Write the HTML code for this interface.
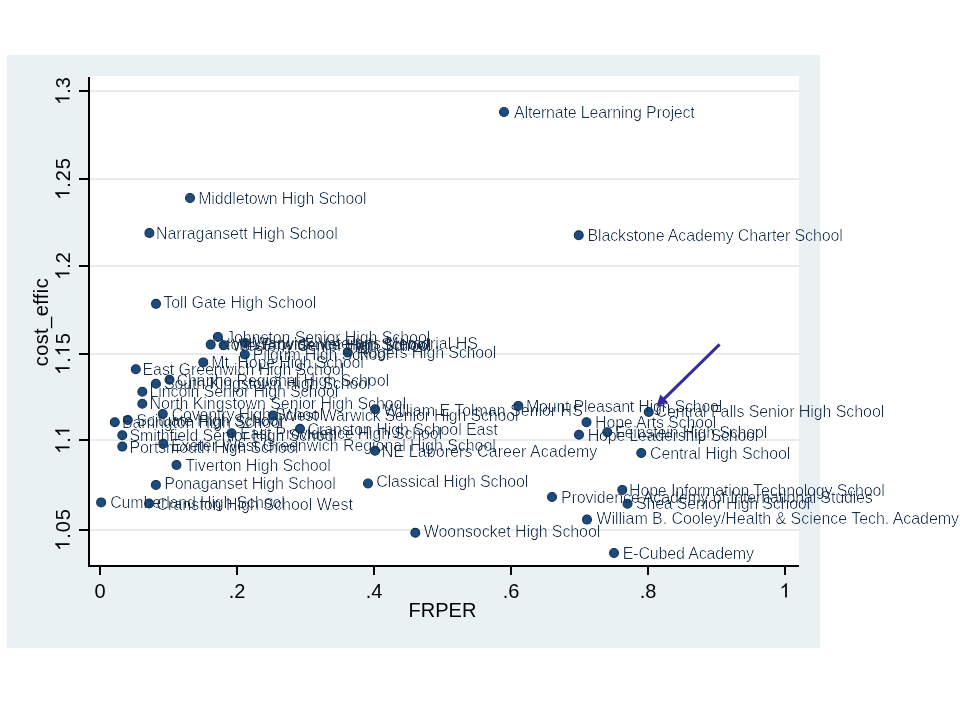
<!DOCTYPE html>
<html><head><meta charset="utf-8"><style>
html,body{margin:0;padding:0;background:#fff;width:960px;height:720px;overflow:hidden}
svg{display:block}
text{font-family:"Liberation Sans",sans-serif}
.lb{font-size:16px;fill:#172f4b}
.tk{font-size:20px;fill:#000}
</style></head><body>
<svg width="960" height="720" viewBox="0 0 960 720">
<defs><filter id="thin" x="0" y="0" width="960" height="720" filterUnits="userSpaceOnUse"><feComponentTransfer><feFuncA type="gamma" amplitude="1" exponent="2.3" offset="0"/></feComponentTransfer></filter>
<filter id="gray" x="0" y="0" width="960" height="720" filterUnits="userSpaceOnUse"><feComponentTransfer><feFuncA type="identity"/></feComponentTransfer></filter></defs>
<rect x="0" y="0" width="960" height="720" fill="#ffffff"/>
<rect x="7" y="55" width="813" height="593" fill="#eaf1f3"/>
<rect x="88" y="76" width="711" height="490" fill="#ffffff"/>

<rect x="90" y="529" width="709" height="2" fill="#e8ebec"/>
<rect x="90" y="439" width="709" height="2" fill="#e8ebec"/>
<rect x="90" y="353" width="709" height="2" fill="#e8ebec"/>
<rect x="90" y="265" width="709" height="2" fill="#e8ebec"/>
<rect x="90" y="178" width="709" height="2" fill="#e8ebec"/>
<rect x="90" y="90" width="709" height="2" fill="#e8ebec"/>
<rect x="88" y="77" width="2" height="490" fill="#000"/>
<rect x="88" y="565" width="711" height="2" fill="#000"/>
<g filter="url(#gray)" fill="#000">
<rect x="79" y="529" width="9" height="2"/>
<g transform="translate(69.5,530) rotate(-90)"><path d="M7.45,0L5.69,0L5.69,-11.2C5.06,-10.6 4.23,-10.0 3.2,-9.4C2.8,-9.15 2.45,-8.97 2.17,-8.87L2.17,-10.57C3.1,-11.0 3.9,-11.6 4.6,-12.25C5.3,-12.9 5.9,-13.6 6.26,-14.32L7.45,-14.32Z" transform="translate(-20.81,0)"/><text class="tk" x="-8.79" y="0">.</text><text class="tk" x="-2.33" y="0">0</text><text class="tk" x="9.69" y="0">5</text></g>
<rect x="79" y="439" width="9" height="2"/>
<g transform="translate(69.5,440) rotate(-90)"><path d="M7.45,0L5.69,0L5.69,-11.2C5.06,-10.6 4.23,-10.0 3.2,-9.4C2.8,-9.15 2.45,-8.97 2.17,-8.87L2.17,-10.57C3.1,-11.0 3.9,-11.6 4.6,-12.25C5.3,-12.9 5.9,-13.6 6.26,-14.32L7.45,-14.32Z" transform="translate(-13.9,0)"/><text class="tk" x="-2.78" y="0">.</text><path d="M7.45,0L5.69,0L5.69,-11.2C5.06,-10.6 4.23,-10.0 3.2,-9.4C2.8,-9.15 2.45,-8.97 2.17,-8.87L2.17,-10.57C3.1,-11.0 3.9,-11.6 4.6,-12.25C5.3,-12.9 5.9,-13.6 6.26,-14.32L7.45,-14.32Z" transform="translate(2.78,0)"/></g>
<rect x="79" y="353" width="9" height="2"/>
<g transform="translate(69.5,354) rotate(-90)"><path d="M7.45,0L5.69,0L5.69,-11.2C5.06,-10.6 4.23,-10.0 3.2,-9.4C2.8,-9.15 2.45,-8.97 2.17,-8.87L2.17,-10.57C3.1,-11.0 3.9,-11.6 4.6,-12.25C5.3,-12.9 5.9,-13.6 6.26,-14.32L7.45,-14.32Z" transform="translate(-20.81,0)"/><text class="tk" x="-8.79" y="0">.</text><path d="M7.45,0L5.69,0L5.69,-11.2C5.06,-10.6 4.23,-10.0 3.2,-9.4C2.8,-9.15 2.45,-8.97 2.17,-8.87L2.17,-10.57C3.1,-11.0 3.9,-11.6 4.6,-12.25C5.3,-12.9 5.9,-13.6 6.26,-14.32L7.45,-14.32Z" transform="translate(-2.33,0)"/><text class="tk" x="9.69" y="0">5</text></g>
<rect x="79" y="265" width="9" height="2"/>
<g transform="translate(69.5,266) rotate(-90)"><path d="M7.45,0L5.69,0L5.69,-11.2C5.06,-10.6 4.23,-10.0 3.2,-9.4C2.8,-9.15 2.45,-8.97 2.17,-8.87L2.17,-10.57C3.1,-11.0 3.9,-11.6 4.6,-12.25C5.3,-12.9 5.9,-13.6 6.26,-14.32L7.45,-14.32Z" transform="translate(-13.9,0)"/><text class="tk" x="-2.78" y="0">.</text><text class="tk" x="2.78" y="0">2</text></g>
<rect x="79" y="178" width="9" height="2"/>
<g transform="translate(69.5,179) rotate(-90)"><path d="M7.45,0L5.69,0L5.69,-11.2C5.06,-10.6 4.23,-10.0 3.2,-9.4C2.8,-9.15 2.45,-8.97 2.17,-8.87L2.17,-10.57C3.1,-11.0 3.9,-11.6 4.6,-12.25C5.3,-12.9 5.9,-13.6 6.26,-14.32L7.45,-14.32Z" transform="translate(-20.81,0)"/><text class="tk" x="-8.79" y="0">.</text><text class="tk" x="-2.33" y="0">2</text><text class="tk" x="9.69" y="0">5</text></g>
<rect x="79" y="90" width="9" height="2"/>
<g transform="translate(69.5,91) rotate(-90)"><path d="M7.45,0L5.69,0L5.69,-11.2C5.06,-10.6 4.23,-10.0 3.2,-9.4C2.8,-9.15 2.45,-8.97 2.17,-8.87L2.17,-10.57C3.1,-11.0 3.9,-11.6 4.6,-12.25C5.3,-12.9 5.9,-13.6 6.26,-14.32L7.45,-14.32Z" transform="translate(-13.9,0)"/><text class="tk" x="-2.78" y="0">.</text><text class="tk" x="2.78" y="0">3</text></g>
<rect x="99" y="567" width="2" height="8"/>
<g transform="translate(100,597.5)"><text class="tk" x="-5.56" y="0">0</text></g>
<rect x="236" y="567" width="2" height="8"/>
<g transform="translate(237,597.5)"><text class="tk" x="-8.34" y="0">.</text><text class="tk" x="-2.78" y="0">2</text></g>
<rect x="373" y="567" width="2" height="8"/>
<g transform="translate(374,597.5)"><text class="tk" x="-8.34" y="0">.</text><text class="tk" x="-2.78" y="0">4</text></g>
<rect x="510" y="567" width="2" height="8"/>
<g transform="translate(511,597.5)"><text class="tk" x="-8.34" y="0">.</text><text class="tk" x="-2.78" y="0">6</text></g>
<rect x="647" y="567" width="2" height="8"/>
<g transform="translate(648,597.5)"><text class="tk" x="-8.34" y="0">.</text><text class="tk" x="-2.78" y="0">8</text></g>
<rect x="784" y="567" width="2" height="8"/>
<g transform="translate(785,597.5)"><path d="M7.45,0L5.69,0L5.69,-11.2C5.06,-10.6 4.23,-10.0 3.2,-9.4C2.8,-9.15 2.45,-8.97 2.17,-8.87L2.17,-10.57C3.1,-11.0 3.9,-11.6 4.6,-12.25C5.3,-12.9 5.9,-13.6 6.26,-14.32L7.45,-14.32Z" transform="translate(-5.56,0)"/></g>
<text class="tk" transform="translate(47.5,322.3) rotate(-90)" text-anchor="middle" textLength="88" lengthAdjust="spacing">cost_effic</text>
<text class="tk" x="442.5" y="616.5" text-anchor="middle">FRPER</text>
</g>
<circle cx="504" cy="112" r="4.45" fill="#1d4b7d" stroke="#11304f" stroke-width="1.1"/>
<circle cx="190" cy="198" r="4.45" fill="#1d4b7d" stroke="#11304f" stroke-width="1.1"/>
<circle cx="149.4" cy="233" r="4.45" fill="#1d4b7d" stroke="#11304f" stroke-width="1.1"/>
<circle cx="578.75" cy="235.3" r="4.45" fill="#1d4b7d" stroke="#11304f" stroke-width="1.1"/>
<circle cx="156" cy="303.85" r="4.45" fill="#1d4b7d" stroke="#11304f" stroke-width="1.1"/>
<circle cx="217.9" cy="336.9" r="4.45" fill="#1d4b7d" stroke="#11304f" stroke-width="1.1"/>
<circle cx="210.7" cy="344.6" r="4.45" fill="#1d4b7d" stroke="#11304f" stroke-width="1.1"/>
<circle cx="223.7" cy="345.2" r="4.45" fill="#1d4b7d" stroke="#11304f" stroke-width="1.1"/>
<circle cx="245" cy="342.9" r="4.45" fill="#1d4b7d" stroke="#11304f" stroke-width="1.1"/>
<circle cx="244.8" cy="354.5" r="4.45" fill="#1d4b7d" stroke="#11304f" stroke-width="1.1"/>
<circle cx="347.8" cy="352.6" r="4.45" fill="#1d4b7d" stroke="#11304f" stroke-width="1.1"/>
<circle cx="203.3" cy="362.4" r="4.45" fill="#1d4b7d" stroke="#11304f" stroke-width="1.1"/>
<circle cx="135.8" cy="369.2" r="4.45" fill="#1d4b7d" stroke="#11304f" stroke-width="1.1"/>
<circle cx="169.5" cy="379.8" r="4.45" fill="#1d4b7d" stroke="#11304f" stroke-width="1.1"/>
<circle cx="155.9" cy="383.7" r="4.45" fill="#1d4b7d" stroke="#11304f" stroke-width="1.1"/>
<circle cx="142.3" cy="391.7" r="4.45" fill="#1d4b7d" stroke="#11304f" stroke-width="1.1"/>
<circle cx="142.3" cy="403.7" r="4.45" fill="#1d4b7d" stroke="#11304f" stroke-width="1.1"/>
<circle cx="518.3" cy="405.9" r="4.45" fill="#1d4b7d" stroke="#11304f" stroke-width="1.1"/>
<circle cx="375.1" cy="409.3" r="4.45" fill="#1d4b7d" stroke="#11304f" stroke-width="1.1"/>
<circle cx="648.75" cy="412" r="4.45" fill="#1d4b7d" stroke="#11304f" stroke-width="1.1"/>
<circle cx="162.8" cy="414" r="4.45" fill="#1d4b7d" stroke="#11304f" stroke-width="1.1"/>
<circle cx="273" cy="415.6" r="4.45" fill="#1d4b7d" stroke="#11304f" stroke-width="1.1"/>
<circle cx="114.8" cy="422.2" r="4.45" fill="#1d4b7d" stroke="#11304f" stroke-width="1.1"/>
<circle cx="127.8" cy="420" r="4.45" fill="#1d4b7d" stroke="#11304f" stroke-width="1.1"/>
<circle cx="586.5" cy="422.3" r="4.45" fill="#1d4b7d" stroke="#11304f" stroke-width="1.1"/>
<circle cx="300" cy="428.8" r="4.45" fill="#1d4b7d" stroke="#11304f" stroke-width="1.1"/>
<circle cx="607.3" cy="432.2" r="4.45" fill="#1d4b7d" stroke="#11304f" stroke-width="1.1"/>
<circle cx="231.5" cy="433.2" r="4.45" fill="#1d4b7d" stroke="#11304f" stroke-width="1.1"/>
<circle cx="122.3" cy="435.2" r="4.45" fill="#1d4b7d" stroke="#11304f" stroke-width="1.1"/>
<circle cx="579" cy="434.8" r="4.45" fill="#1d4b7d" stroke="#11304f" stroke-width="1.1"/>
<circle cx="163.3" cy="443.8" r="4.45" fill="#1d4b7d" stroke="#11304f" stroke-width="1.1"/>
<circle cx="122.3" cy="446.6" r="4.45" fill="#1d4b7d" stroke="#11304f" stroke-width="1.1"/>
<circle cx="375.1" cy="450.8" r="4.45" fill="#1d4b7d" stroke="#11304f" stroke-width="1.1"/>
<circle cx="641.25" cy="453" r="4.45" fill="#1d4b7d" stroke="#11304f" stroke-width="1.1"/>
<circle cx="176.5" cy="465" r="4.45" fill="#1d4b7d" stroke="#11304f" stroke-width="1.1"/>
<circle cx="368" cy="483.5" r="4.45" fill="#1d4b7d" stroke="#11304f" stroke-width="1.1"/>
<circle cx="155.9" cy="484.9" r="4.45" fill="#1d4b7d" stroke="#11304f" stroke-width="1.1"/>
<circle cx="622.3" cy="489.9" r="4.45" fill="#1d4b7d" stroke="#11304f" stroke-width="1.1"/>
<circle cx="552" cy="497" r="4.45" fill="#1d4b7d" stroke="#11304f" stroke-width="1.1"/>
<circle cx="101.1" cy="502.4" r="4.45" fill="#1d4b7d" stroke="#11304f" stroke-width="1.1"/>
<circle cx="149.1" cy="503.5" r="4.45" fill="#1d4b7d" stroke="#11304f" stroke-width="1.1"/>
<circle cx="627.5" cy="503.75" r="4.45" fill="#1d4b7d" stroke="#11304f" stroke-width="1.1"/>
<circle cx="587" cy="519.6" r="4.45" fill="#1d4b7d" stroke="#11304f" stroke-width="1.1"/>
<circle cx="415.3" cy="532.8" r="4.45" fill="#1d4b7d" stroke="#11304f" stroke-width="1.1"/>
<circle cx="614" cy="553" r="4.45" fill="#1d4b7d" stroke="#11304f" stroke-width="1.1"/>
<g filter="url(#thin)">
<text class="lb" x="514" y="117.7" textLength="180.8" lengthAdjust="spacing">Alternate Learning Project</text>
<text class="lb" x="198.2" y="203.7" textLength="168.4" lengthAdjust="spacing">Middletown High School</text>
<text class="lb" x="155.9" y="238.7" textLength="181.9" lengthAdjust="spacing">Narragansett High School</text>
<text class="lb" x="587.5" y="241" textLength="255.3" lengthAdjust="spacing">Blackstone Academy Charter School</text>
<text class="lb" x="163.3" y="307.75" textLength="153" lengthAdjust="spacing">Toll Gate High School</text>
<text class="lb" x="226" y="342.6" textLength="204.3" lengthAdjust="spacing">Johnston Senior High School</text>
<text class="lb" x="219.2" y="350.3" letter-spacing="-0.16">North Providence High School</text>
<text class="lb" x="232.2" y="350.9" letter-spacing="-0.16">Westerly Senior High School</text>
<text class="lb" x="253.5" y="348.6" textLength="224.4" lengthAdjust="spacing">Warwick Veterans Memorial HS</text>
<text class="lb" x="252.8" y="360.2" letter-spacing="-0.16">Pilgrim High School</text>
<text class="lb" x="356.8" y="358.3" textLength="139.5" lengthAdjust="spacing">Rogers High School</text>
<text class="lb" x="211.3" y="368.1" textLength="152.6" lengthAdjust="spacing">Mt. Hope High School</text>
<text class="lb" x="142.5" y="374.9" textLength="201.6" lengthAdjust="spacing">East Greenwich High School</text>
<text class="lb" x="176.5" y="385.5" textLength="212.6" lengthAdjust="spacing">Chariho Regional High School</text>
<text class="lb" x="164" y="389.4" textLength="206.6" lengthAdjust="spacing">South Kingstown High School</text>
<text class="lb" x="149.6" y="397.4" textLength="188.7" lengthAdjust="spacing">Lincoln Senior High School</text>
<text class="lb" x="149.6" y="409.4" textLength="256.4" lengthAdjust="spacing">North Kingstown Senior High School</text>
<text class="lb" x="526" y="412" textLength="196.3" lengthAdjust="spacing">Mount Pleasant High School</text>
<text class="lb" x="383.6" y="416" textLength="199.2" lengthAdjust="spacing">William E Tolman Senior HS</text>
<text class="lb" x="655.5" y="416.7" textLength="228.8" lengthAdjust="spacing">Central Falls Senior High School</text>
<text class="lb" x="171.5" y="419.7" letter-spacing="-0.16">Coventry High School</text>
<text class="lb" x="282" y="421.3" textLength="236.6" lengthAdjust="spacing">West Warwick Senior High School</text>
<text class="lb" x="122" y="427.9" letter-spacing="-0.16">Barrington High School</text>
<text class="lb" x="136.3" y="425.7" letter-spacing="-0.16">Scituate High School</text>
<text class="lb" x="595" y="427.9" letter-spacing="-0.16">Hope Arts School</text>
<text class="lb" x="307.5" y="434.5" textLength="190.3" lengthAdjust="spacing">Cranston High School East</text>
<text class="lb" x="615" y="437.9" textLength="152.3" lengthAdjust="spacing">Feinstein High School</text>
<text class="lb" x="240" y="438.9" textLength="202" lengthAdjust="spacing">East Providence High School</text>
<text class="lb" x="129.5" y="440.9" letter-spacing="-0.16">Smithfield Senior High School</text>
<text class="lb" x="587.7" y="441.4" textLength="170.6" lengthAdjust="spacing">Hope Leadership School</text>
<text class="lb" x="171" y="450.7" textLength="324.8" lengthAdjust="spacing">Exeter-West Greenwich Regional High School</text>
<text class="lb" x="129.5" y="453.1" letter-spacing="-0.16">Portsmouth High School</text>
<text class="lb" x="381.8" y="456.5" textLength="215.5" lengthAdjust="spacing">NE Laborers Career Academy</text>
<text class="lb" x="650" y="458.7" textLength="140.3" lengthAdjust="spacing">Central High School</text>
<text class="lb" x="185.3" y="470.7" textLength="145.5" lengthAdjust="spacing">Tiverton High School</text>
<text class="lb" x="376.2" y="487.3" textLength="152.1" lengthAdjust="spacing">Classical High School</text>
<text class="lb" x="164.2" y="488.8" textLength="171.6" lengthAdjust="spacing">Ponaganset High School</text>
<text class="lb" x="629" y="495.6" textLength="255.8" lengthAdjust="spacing">Hope Information Technology School</text>
<text class="lb" x="561" y="502.7" textLength="311.8" lengthAdjust="spacing">Providence Academy of International Studies</text>
<text class="lb" x="110.2" y="508.1" letter-spacing="-0.16">Cumberland High School</text>
<text class="lb" x="156.5" y="510.1" textLength="196.4" lengthAdjust="spacing">Cranston High School West</text>
<text class="lb" x="636" y="509.45" textLength="174.1" lengthAdjust="spacing">Shea Senior High School</text>
<text class="lb" x="596.5" y="524.3" textLength="362.5" lengthAdjust="spacing">William B. Cooley/Health &amp; Science Tech. Academy</text>
<text class="lb" x="423.8" y="537.3" textLength="176.5" lengthAdjust="spacing">Woonsocket High School</text>
<text class="lb" x="622.8" y="558.7" letter-spacing="-0.16">E-Cubed Academy</text>
</g>
<line x1="719.6" y1="344.4" x2="663.5" y2="399.4" stroke="#352c9c" stroke-width="3"/>
<polygon points="656.3,406.4 660.4,394.6 668.2,402.4" fill="#352c9c"/>
</svg>
</body></html>
